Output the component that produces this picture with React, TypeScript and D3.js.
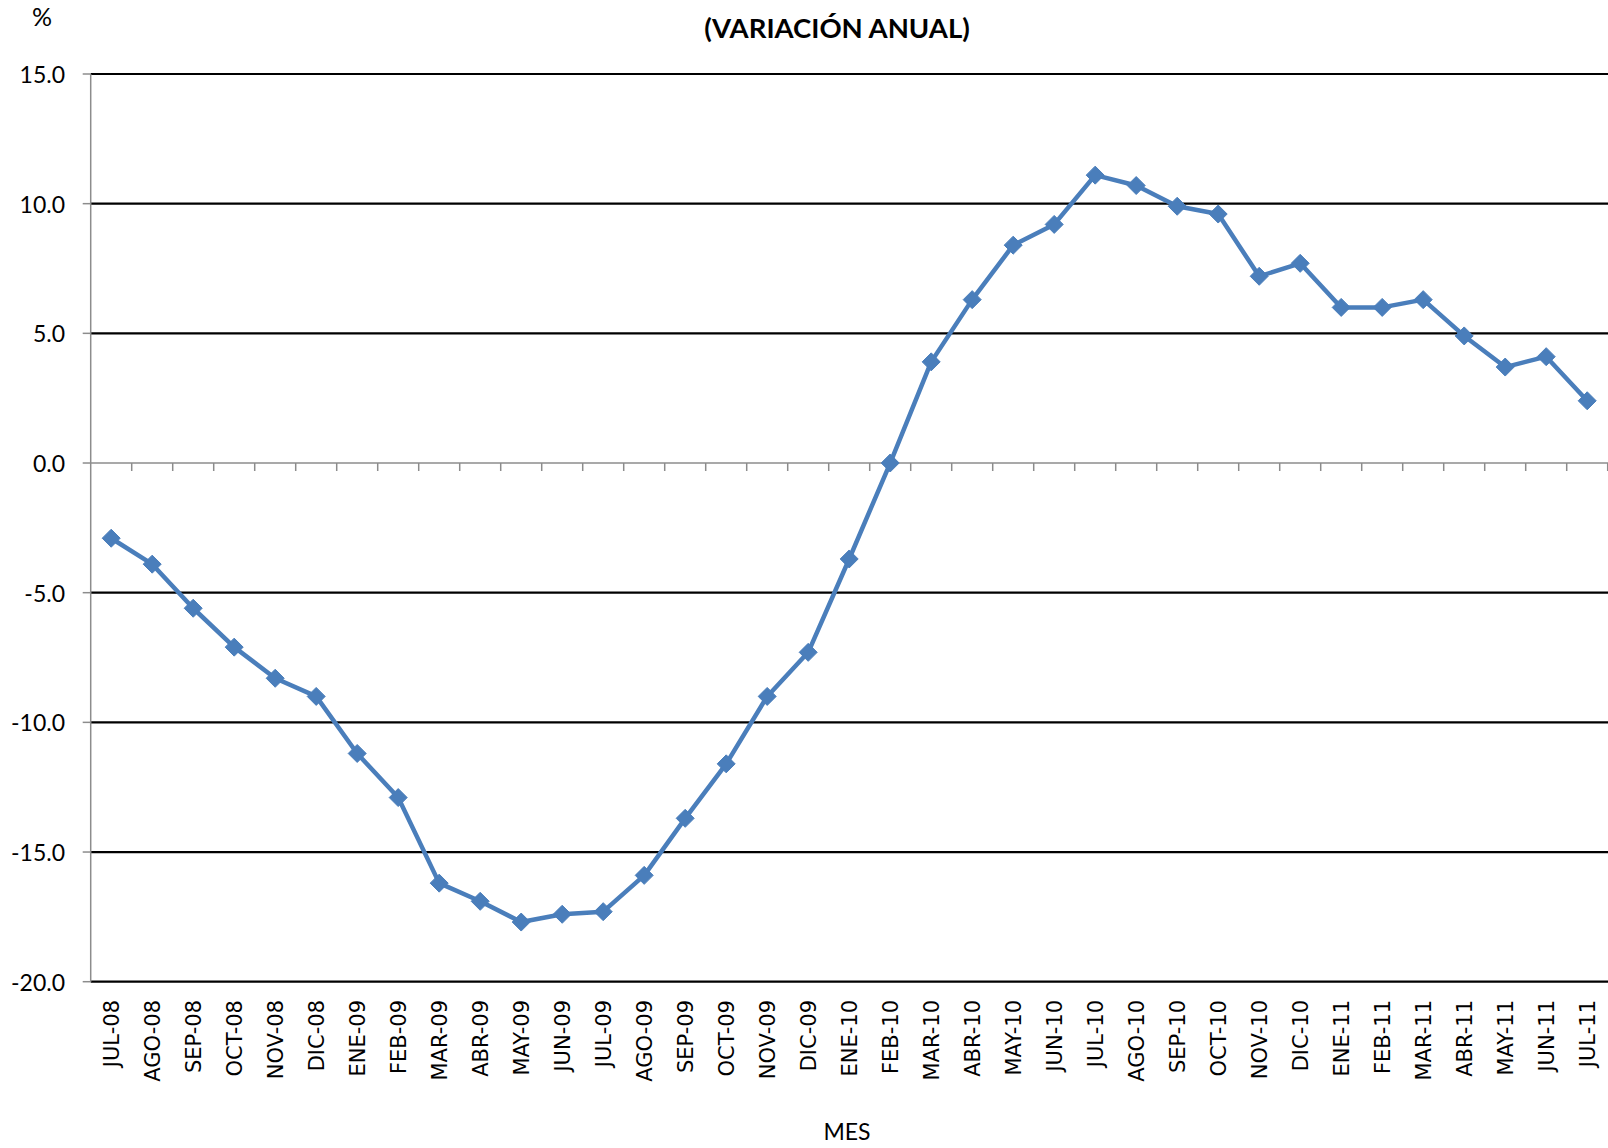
import React from "react";
import * as d3 from "d3";

const months = [
  "JUL-08","AGO-08","SEP-08","OCT-08","NOV-08","DIC-08","ENE-09","FEB-09","MAR-09","ABR-09",
  "MAY-09","JUN-09","JUL-09","AGO-09","SEP-09","OCT-09","NOV-09","DIC-09","ENE-10","FEB-10",
  "MAR-10","ABR-10","MAY-10","JUN-10","JUL-10","AGO-10","SEP-10","OCT-10","NOV-10","DIC-10",
  "ENE-11","FEB-11","MAR-11","ABR-11","MAY-11","JUN-11","JUL-11",
];
const values = [
  -2.9,-3.9,-5.6,-7.1,-8.3,-9.0,-11.2,-12.9,-16.2,-16.9,
  -17.7,-17.4,-17.3,-15.9,-13.7,-11.6,-9.0,-7.3,-3.7,0.0,
  3.9,6.3,8.4,9.2,11.1,10.7,9.9,9.6,7.2,7.7,
  6.0,6.0,6.3,4.9,3.7,4.1,2.4,
];
const yTicks = [15, 10, 5, 0, -5, -10, -15, -20];
const title = "(VARIACIÓN ANUAL)";
const yUnit = "%";
const xTitle = "MES";

const W = 1608, H = 1148;
const left = 90.7, right = 1608, top = 74, bottom = 981.7;
const blue = "#4A7EBB";

export default function App() {
  const x = d3.scaleBand<string>().domain(months).range([left, left + 41 * months.length]).padding(0);
  const y = d3.scaleLinear().domain([-20, 15]).range([bottom, top]);
  const cx = (m: string) => (x(m) as number) + x.bandwidth() / 2;
  const line = d3.line<number>().x((_, i) => cx(months[i])).y((v) => y(v));
  const diamond = (px: number, py: number, r: number) =>
    `M${px},${py - r}L${px + r},${py}L${px},${py + r}L${px - r},${py}Z`;
  const y0 = y(0);

  return (
    <div style={{ position: "absolute", left: 0, top: 0 }}>
      <svg width={W} height={H} style={{ display: "block", background: "#fff" }}>
        {yTicks.filter((t) => t !== 0).map((t) => (
          <line key={"g" + t} x1={left} x2={right} y1={y(t)} y2={y(t)} stroke="#000" strokeWidth={2.2} />
        ))}
        <line x1={left} x2={left} y1={top} y2={bottom} stroke="#8c8c8c" strokeWidth={1.5} />
        {yTicks.map((t) => (
          <g key={"t" + t}>
            <line x1={left - 8} x2={left} y1={y(t)} y2={y(t)} stroke="#8c8c8c" strokeWidth={1.5} />
            <text x={65} y={y(t)} textAnchor="end" dominantBaseline="central"
              fontFamily="Lato, sans-serif" fontSize={23} fill="#000">{t.toFixed(1)}</text>
          </g>
        ))}
        <line x1={left} x2={right} y1={y0} y2={y0} stroke="#8c8c8c" strokeWidth={1.6} />
        {months.map((m, i) => (
          <line key={"xt" + i} x1={(x(m) as number) + x.bandwidth()} x2={(x(m) as number) + x.bandwidth()}
            y1={y0} y2={y0 + 8} stroke="#8c8c8c" strokeWidth={1.5} />
        ))}
        {months.map((m) => (
          <text key={"xl" + m} transform={`translate(${cx(m) + 1},${1000}) rotate(-90)`} textAnchor="end"
            dominantBaseline="central" fontFamily="'DejaVu Sans', Verdana, sans-serif" fontSize={21}
            fill="#000">{m}</text>
        ))}
        <path d={line(values) as string} fill="none" stroke={blue} strokeWidth={4.5} strokeLinejoin="round" />
        {values.map((v, i) => (
          <path key={"m" + i} d={diamond(cx(months[i]), y(v), 9)} fill={blue} stroke={blue} strokeWidth={1} />
        ))}
        <text x={837} y={38} textAnchor="middle" fontFamily="Lato, sans-serif" fontWeight="bold" fontSize={27.5} fill="#000">{title}</text>
        <text x={42} y={26} textAnchor="middle" fontFamily="Lato, sans-serif" fontSize={25} fill="#000">{yUnit}</text>
        <text x={847} y={1140} textAnchor="middle" fontFamily="Lato, sans-serif" fontSize={23} fill="#000">{xTitle}</text>
      </svg>
    </div>
  );
}
